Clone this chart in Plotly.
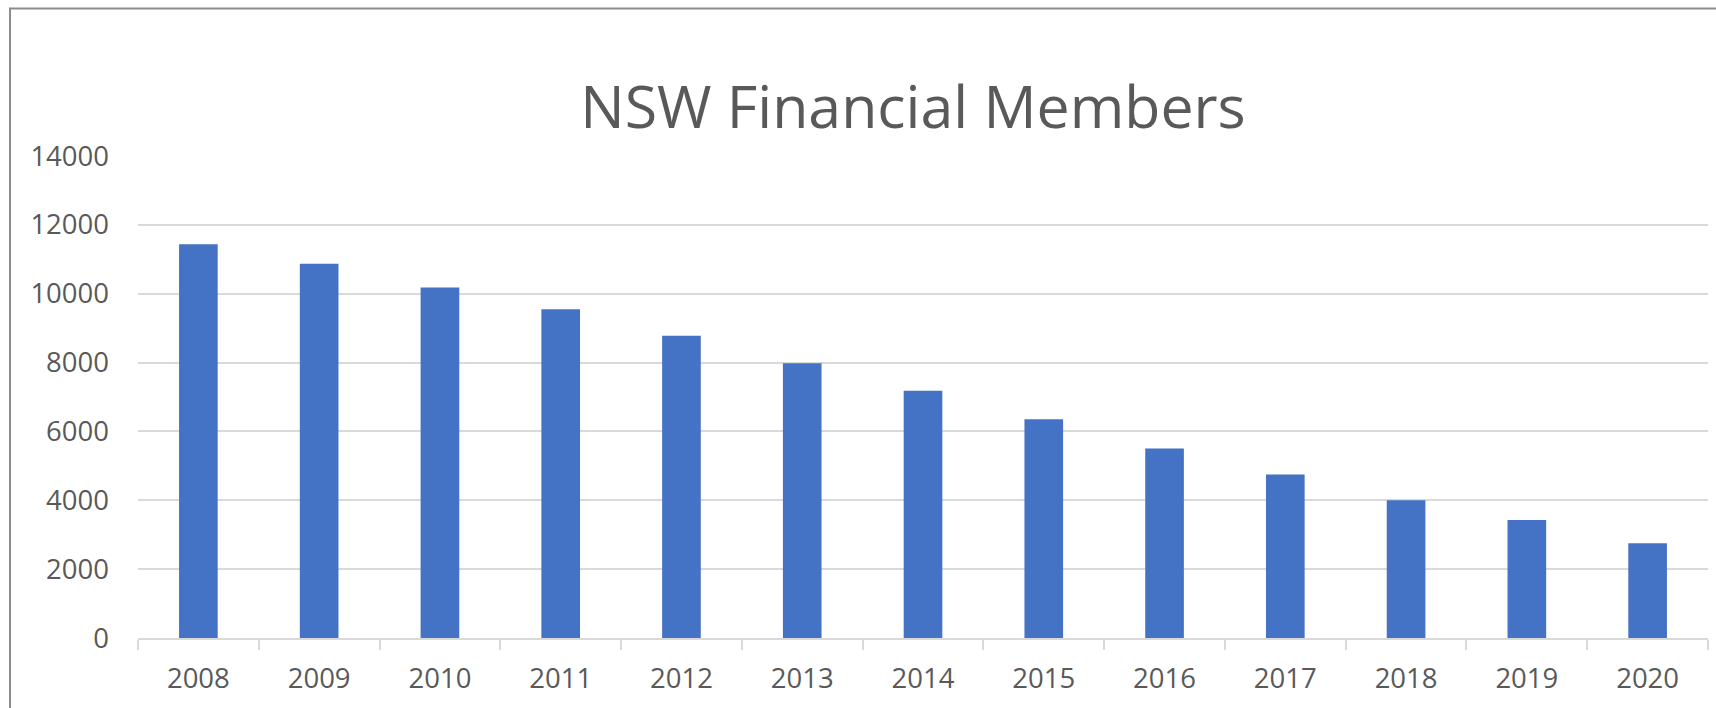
import plotly.graph_objects as go

years = ["2008", "2009", "2010", "2011", "2012", "2013", "2014",
         "2015", "2016", "2017", "2018", "2019", "2020"]
members = [11440, 10870, 10180, 9550, 8780, 7980, 7180,
           6355, 5505, 4750, 4000, 3430, 2750]
y_ticks = [0, 2000, 4000, 6000, 8000, 10000, 12000, 14000]

W, H = 1716, 708
L, R, T, B = 138, 8, 156, 70
pw, ph = W - L - R, H - T - B

TXT = "#595959"
GRID = "#d9d9d9"
FONT = "Open Sans"

fig = go.Figure(go.Bar(
    x=years, y=members,
    marker=dict(color="#4472C4", line=dict(width=0)),
    hoverinfo="x+y",
))

fig.update_layout(
    width=W, height=H,
    margin=dict(l=L, r=R, t=T, b=B, pad=0),
    paper_bgcolor="white", plot_bgcolor="white",
    bargap=0.68,
    showlegend=False,
    title=dict(
        text="NSW Financial Members",
        font=dict(family=FONT, size=59, color=TXT),
        xref="container", yref="container",
        x=913 / W, y=1 - 107 / H,
        xanchor="center", yanchor="middle",
    ),
    font=dict(family=FONT, color=TXT),
    shapes=[dict(
        type="rect", xref="paper", yref="paper",
        x0=(10 - L) / pw, x1=1.1,
        y0=-0.3, y1=(H - B - 8.5) / ph,
        line=dict(color="#8c8c8c", width=2),
        fillcolor="rgba(0,0,0,0)", layer="below",
    )],
)

fig.update_xaxes(
    type="category",
    showgrid=False,
    showline=True, linecolor=GRID, linewidth=1.5,
    ticks="outside", ticklen=10, tickcolor=GRID, tickwidth=1.5,
    tickson="boundaries",
    ticklabelstandoff=15,
    tickfont=dict(family=FONT, size=27.5, color=TXT),
)

fig.update_yaxes(
    range=[0, 14000],
    tickvals=y_ticks,
    ticktext=[str(v) for v in y_ticks],
    showgrid=True, gridcolor=GRID, gridwidth=1.5,
    zeroline=False, showline=False,
    ticks="", ticklabelstandoff=28,
    tickfont=dict(family=FONT, size=27.5, color=TXT),
)

fig.write_html("out.html")
